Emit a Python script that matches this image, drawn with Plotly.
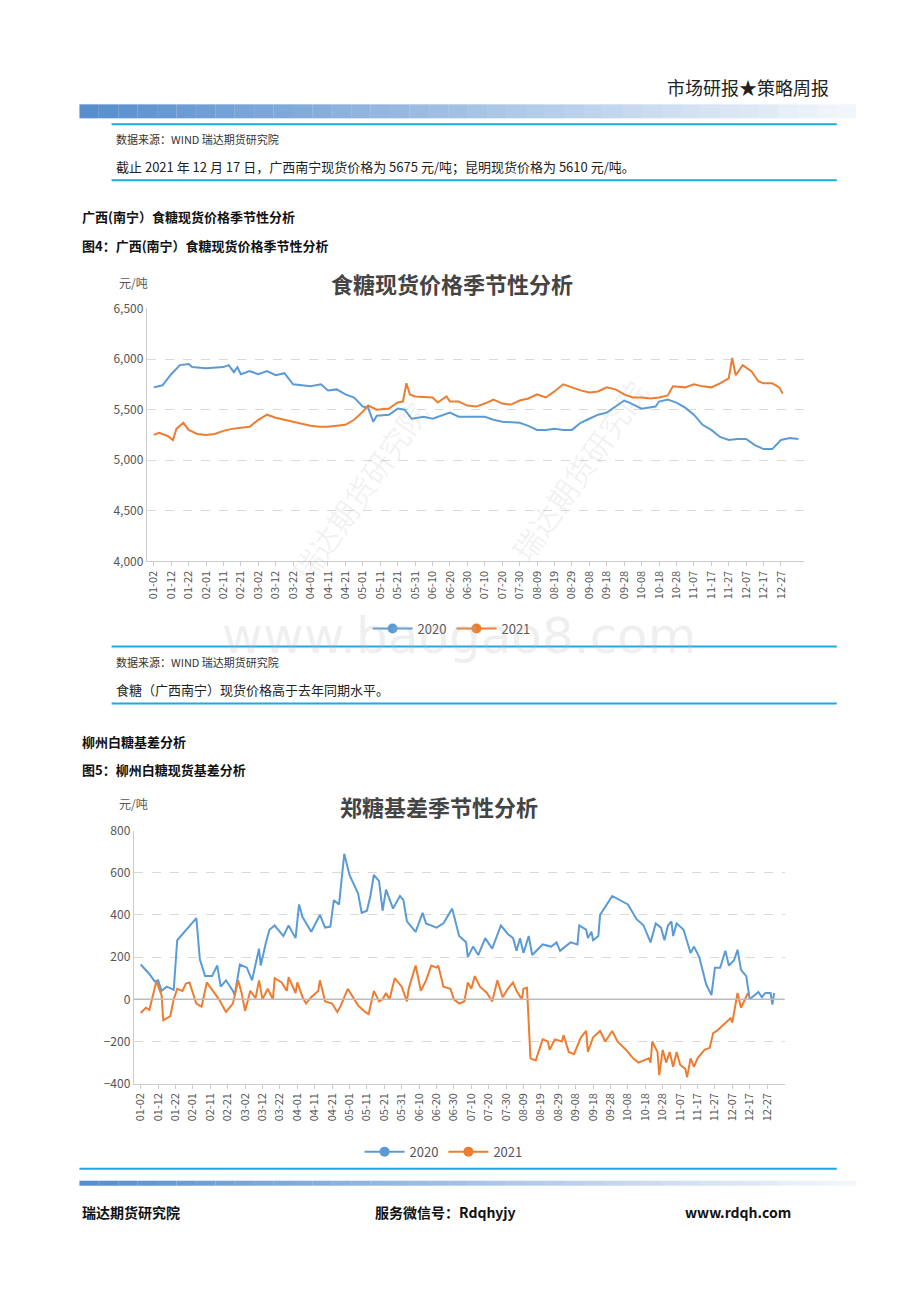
import plotly.graph_objects as go

W, H = 920, 1302

ticks = ["01-02", "01-12", "01-22", "02-01", "02-11", "02-21", "03-02", "03-12", "03-22",
         "04-01", "04-11", "04-21", "05-01", "05-11", "05-21", "05-31", "06-10", "06-20",
         "06-30", "07-10", "07-20", "07-30", "08-09", "08-19", "08-29", "09-08", "09-18",
         "09-28", "10-08", "10-18", "10-28", "11-07", "11-17", "11-27", "12-07", "12-17", "12-27"]

# chart 1: spot price, positions in tick units (1 tick = 10 days)
p20_t = [0, 0.5, 1, 1.5, 2, 2.2, 3, 4, 4.3, 4.6, 4.8, 5, 5.5, 6, 6.5, 7, 7.5, 8, 8.5, 9, 9.6, 10,
         10.5, 11, 11.5, 12, 12.3, 12.6, 12.8, 13.5, 14, 14.4, 14.8, 15.5, 16, 16.5, 17, 17.5, 18,
         19, 19.5, 20, 21, 21.5, 22, 22.5, 23, 23.5, 24, 24.5, 25, 25.5, 26, 26.5, 27, 27.3, 28,
         28.8, 29, 29.5, 30, 30.5, 31, 31.5, 32, 32.5, 33, 33.5, 34, 34.5, 35, 35.5, 36, 36.5, 37]
p20_v = [5720, 5740, 5850, 5940, 5950, 5920, 5910, 5920, 5940, 5870, 5920, 5850, 5880, 5850, 5880,
         5840, 5860, 5750, 5740, 5730, 5750, 5690, 5700, 5650, 5620, 5530, 5520, 5380, 5440, 5450,
         5510, 5500, 5410, 5430, 5410, 5440, 5470, 5430, 5430, 5430, 5400, 5380, 5370, 5340, 5300,
         5300, 5310, 5300, 5300, 5370, 5410, 5450, 5470, 5530, 5590, 5570, 5510, 5530, 5580, 5600,
         5570, 5520, 5450, 5350, 5300, 5230, 5200, 5210, 5210, 5150, 5110, 5110, 5200, 5220, 5210]
p21_t = [0, 0.3, 0.8, 1.1, 1.3, 1.7, 2, 2.5, 3, 3.5, 4, 4.5, 5, 5.5, 6, 6.5, 7, 7.5, 8, 9, 9.5, 10,
         10.5, 11, 11.5, 12, 12.3, 12.8, 13.5, 14, 14.3, 14.5, 14.7, 15, 16, 16.3, 16.8, 17, 17.5,
         18, 18.5, 19, 19.5, 20, 20.5, 21, 21.5, 22, 22.5, 23, 23.5, 24, 24.5, 25, 25.5, 26, 26.5,
         27, 27.5, 28, 28.5, 29, 29.5, 29.8, 30.5, 31, 31.5, 32, 32.5, 33, 33.2, 33.4, 33.8, 34.3,
         34.7, 35, 35.5, 35.9, 36.1]
p21_v = [5250, 5270, 5240, 5200, 5310, 5370, 5300, 5260, 5250, 5260, 5290, 5310, 5320, 5330, 5400,
         5450, 5420, 5400, 5380, 5340, 5330, 5330, 5340, 5350, 5400, 5480, 5540, 5500, 5510, 5570,
         5580, 5760, 5650, 5630, 5620, 5570, 5630, 5580, 5580, 5540, 5530, 5560, 5600, 5560, 5550,
         5590, 5610, 5650, 5620, 5680, 5750, 5720, 5690, 5670, 5680, 5720, 5700, 5650, 5620, 5620,
         5610, 5620, 5640, 5730, 5720, 5750, 5730, 5720, 5760, 5810, 6010, 5840, 5940, 5880, 5780,
         5760, 5760, 5720, 5660]

# chart 2: basis
b20_t = [0, 0.5, 0.8, 1.0, 1.2, 1.5, 1.9, 2.1, 3.2, 3.4, 3.7, 4.1, 4.4, 4.6, 4.9, 5.3, 5.4, 5.7,
         6.1, 6.4, 6.8, 6.9, 7.2, 7.4, 7.7, 8.2, 8.5, 8.9, 9.1, 9.3, 9.8, 10.3, 10.6, 10.9, 11.1,
         11.4, 11.7, 12, 12.5, 12.7, 13, 13.2, 13.4, 13.7, 13.9, 14.1, 14.5, 14.9, 15.1, 15.3, 15.8,
         16.2, 16.4, 17, 17.4, 17.9, 18.3, 18.7, 18.8, 19.1, 19.4, 19.8, 20.2, 20.7, 21.1, 21.4,
         21.6, 21.8, 22, 22.3, 22.5, 23.1, 23.6, 23.9, 24.1, 24.7, 25.1, 25.2, 25.6, 25.7, 25.9, 26,
         26.3, 26.4, 27.1, 28, 28.5, 28.9, 29.3, 29.6, 29.9, 30.1, 30.3, 30.5, 30.6, 30.8, 31.2,
         31.6, 31.8, 32.1, 32.5, 32.8, 33, 33.3, 33.6, 33.8, 34.1, 34.3, 34.5, 34.8, 35, 35.5, 35.7,
         35.9, 36.2, 36.3, 36.4]
b20_v = [165, 120, 85, 90, 40, 60, 45, 280, 385, 190, 110, 110, 160, 60, 90, 40, 20, 165, 150, 90,
         240, 160, 270, 330, 350, 300, 350, 290, 450, 390, 320, 400, 340, 345, 470, 450, 690, 590,
         500, 410, 420, 490, 590, 560, 420, 520, 430, 490, 470, 370, 320, 410, 360, 340, 360, 430,
         300, 270, 200, 250, 210, 290, 240, 350, 310, 290, 230, 290, 220, 300, 210, 260, 250, 270,
         230, 270, 260, 350, 330, 290, 320, 280, 300, 400, 490, 450, 380, 350, 270, 360, 340, 280,
         350, 370, 300, 360, 330, 220, 250, 200, 70, 20, 150, 150, 230, 160, 185, 235, 140, 110, 0,
         35, 10, 30, 30, -25, 30]
b21_t = [0, 0.3, 0.5, 0.9, 1.2, 1.3, 1.7, 1.9, 2.1, 2.4, 2.6, 2.8, 3.2, 3.5, 3.8, 4.5, 4.9, 5.3,
         5.6, 5.8, 6.0, 6.3, 6.6, 6.8, 7.0, 7.3, 7.6, 7.7, 8.1, 8.4, 8.5, 8.9, 9.0, 9.3, 9.5, 9.8,
         10.2, 10.3, 10.6, 11, 11.3, 11.5, 11.9, 12.5, 12.9, 13.1, 13.4, 13.7, 13.9, 14.1, 14.3,
         14.6, 15.0, 15.3, 15.4, 15.8, 16.1, 16.4, 16.7, 17.0, 17.1, 17.4, 17.8, 18, 18.3, 18.6,
         18.8, 19.0, 19.2, 19.5, 19.9, 20.2, 20.5, 20.8, 21.1, 21.4, 21.6, 21.9, 22.0, 22.2, 22.4,
         22.7, 23.1, 23.4, 23.5, 23.8, 24.2, 24.3, 24.6, 24.9, 25.3, 25.6, 25.7, 26.0, 26.4, 26.7,
         27.1, 27.4, 27.9, 28.3, 28.6, 29.2, 29.3, 29.4, 29.7, 29.8, 30.0, 30.2, 30.4, 30.6, 30.8,
         31.0, 31.3, 31.4, 31.6, 31.8, 32.0, 32.4, 32.7, 32.9, 33.1, 33.9, 34.0, 34.3, 34.5, 34.9]
b21_v = [-65, -40, -50, 85, 20, -100, -80, 0, 50, 40, 75, 80, -20, -35, 80, 0, -60, -20, 90, 30,
         -55, 40, 5, 90, 0, 50, 0, 100, 80, 40, 105, 30, 80, 10, -20, 10, 40, 90, -10, -20, -60,
         -30, 50, -30, -60, -70, 40, -10, 0, 30, 0, 100, 60, -10, 50, 160, 40, 90, 160, 150, 160,
         60, 50, 0, -20, -10, 80, 50, 110, 60, 30, -10, 90, 10, 50, 80, 40, 0, 50, 55, -280, -290,
         -190, -200, -240, -190, -200, -170, -250, -260, -180, -150, -250, -180, -150, -200, -150,
         -200, -240, -280, -300, -280, -300, -200, -250, -360, -240, -300, -250, -320, -250, -310,
         -330, -370, -280, -320, -280, -240, -230, -160, -150, -90, -110, 30, -40, 30]

BLUE = "#5b9bd5"
ORANGE = "#ed7d31"
CYAN = "#1fa9e1"
FONT = "Noto Sans CJK SC"


# page pixel -> paper coords (corrected for the page offset seen in the render)
def py(y):
    return 1 - ((y - 17.7) / 0.9866) / H


def px(x):
    return ((x - 14) / 0.992) / W


fig = go.Figure()
fig.add_trace(go.Scatter(x=[t * 10 for t in p20_t], y=p20_v, mode="lines", showlegend=False,
                         line=dict(color=BLUE, width=2)))
fig.add_trace(go.Scatter(x=[t * 10 for t in p21_t], y=p21_v, mode="lines", showlegend=False,
                         line=dict(color=ORANGE, width=2)))
fig.add_trace(go.Scatter(x=[t * 10 for t in b20_t], y=b20_v, mode="lines", showlegend=False,
                         line=dict(color=BLUE, width=2), xaxis="x2", yaxis="y2"))
fig.add_trace(go.Scatter(x=[t * 10 for t in b21_t], y=b21_v, mode="lines", showlegend=False,
                         line=dict(color=ORANGE, width=2), xaxis="x2", yaxis="y2"))
# legend entries with circle markers
for lg, xa, ya in [("legend", "x", "y"), ("legend2", "x2", "y2")]:
    for nm, c in [("2020", BLUE), ("2021", ORANGE)]:
        fig.add_trace(go.Scatter(x=[None], y=[None], name=nm, mode="lines+markers",
                                 line=dict(color=c, width=2), marker=dict(size=10, color=c),
                                 xaxis=xa, yaxis=ya, legend=lg))

xcommon = dict(tickmode="array", tickvals=[i * 10 for i in range(len(ticks))], ticktext=ticks,
               tickangle=-90, tickfont=dict(size=11, color="#555", family=FONT),
               showgrid=False, showline=True, linecolor="#ccc", ticks="outside",
               ticklen=4, tickcolor="#ccc", zeroline=False)
ycommon = dict(showgrid=True, gridcolor="#d9d9d9", griddash="dash", showline=True,
               linecolor="#ccc", tickfont=dict(size=12, color="#555", family=FONT), zeroline=False)

fig.update_layout(
    width=W, height=H, margin=dict(l=0, r=0, t=0, b=0),
    paper_bgcolor="white", plot_bgcolor="white", font=dict(family=FONT),
    xaxis=dict(domain=[px(150), px(803)], range=[-4, 373], anchor="y", **xcommon),
    yaxis=dict(domain=[py(561), py(308)], range=[4000, 6500], dtick=500, tickformat=",",
               anchor="x", **ycommon),
    xaxis2=dict(domain=[px(137), px(784)], range=[-4, 370], anchor="y2", **xcommon),
    yaxis2=dict(domain=[py(1083), py(830)], range=[-400, 800], dtick=200, anchor="x2", **ycommon),
    legend=dict(orientation="h", x=px(453), xanchor="center", y=py(628), yanchor="middle",
                font=dict(size=13, color="#555"), itemwidth=40),
    legend2=dict(orientation="h", x=px(445), xanchor="center", y=py(1151), yanchor="middle",
                 font=dict(size=13, color="#555"), itemwidth=40),
    showlegend=True,
)
# zero line on basis chart
fig.add_hline(y=0, line=dict(color="#bbb", width=1.5), xref="x2", yref="y2")

shapes = []
# header / footer gradient bars
n = 40
for i in range(n):
    x0 = 83 + i * (855 - 83) / n
    x1 = 83 + (i + 1) * (855 - 83) / n
    a = 0.85 * (1 - i / n) + 0.05
    shapes.append(dict(type="rect", xref="paper", yref="paper", x0=px(x0), x1=px(x1),
                       y0=py(118), y1=py(104), fillcolor=f"rgba(70,130,200,{a:.2f})",
                       line=dict(width=0), layer="below"))
    shapes.append(dict(type="rect", xref="paper", yref="paper", x0=px(x0), x1=px(x1),
                       y0=py(1185), y1=py(1180), fillcolor=f"rgba(70,130,200,{a:.2f})",
                       line=dict(width=0), layer="below"))
for y, x0, x1 in [(124, 115, 836), (180, 115, 836), (646, 115, 836), (703, 115, 836),
                  (1168, 83, 836)]:
    shapes.append(dict(type="line", xref="paper", yref="paper", x0=px(x0), x1=px(x1),
                       y0=py(y), y1=py(y), line=dict(color=CYAN, width=2)))
fig.update_layout(shapes=list(fig.layout.shapes) + shapes)

texts = [
    (830, 87, "市场研报★策略周报", 18, "#222", "right", False),
    (117, 139, "数据来源：WIND 瑞达期货研究院", 11, "#333", "left", False),
    (117, 166, "截止 2021 年 12 月 17 日，广西南宁现货价格为 5675 元/吨；昆明现货价格为 5610 元/吨。", 13, "#222", "left", False),
    (84, 216, "广西(南宁）食糖现货价格季节性分析", 13, "#111", "left", True),
    (84, 245, "图4：广西(南宁）食糖现货价格季节性分析", 13, "#111", "left", True),
    (453, 283, "食糖现货价格季节性分析", 22, "#444", "center", True),
    (120, 282, "元/吨", 12, "#555", "left", False),
    (117, 661, "数据来源：WIND 瑞达期货研究院", 11, "#333", "left", False),
    (117, 689, "食糖（广西南宁）现货价格高于去年同期水平。", 13, "#222", "left", False),
    (84, 741, "柳州白糖基差分析", 13, "#111", "left", True),
    (84, 769, "图5：柳州白糖现货基差分析", 13, "#111", "left", True),
    (440, 805, "郑糖基差季节性分析", 22, "#444", "center", True),
    (120, 803, "元/吨", 12, "#555", "left", False),
    (84, 1211, "瑞达期货研究院", 14, "#111", "left", True),
    (375, 1211, "服务微信号：Rdqhyjy", 14, "#111", "left", True),
    (792, 1211, "www.rdqh.com", 14, "#111", "right", True),
]
for x, y, t, s, c, al, b in texts:
    fig.add_annotation(x=px(x), y=py(y), xref="paper", yref="paper", text=f"<b>{t}</b>" if b else t,
                       showarrow=False, xanchor=al, yanchor="middle",
                       font=dict(size=s, color=c, family=FONT))

# watermarks
fig.add_annotation(x=px(460), y=py(635), xref="paper", yref="paper", text="www.baogao8.com",
                   showarrow=False, font=dict(size=50, color="rgba(180,180,180,0.22)", family="DejaVu Sans"))
for x, y in [(280, 390), (580, 470)]:
    fig.add_annotation(x=px(x), y=py(y), xref="paper", yref="paper", text="瑞达期货研究院",
                       showarrow=False, textangle=-55,
                       font=dict(size=30, color="rgba(150,150,150,0.12)", family=FONT))

fig.write_html("out.html")
